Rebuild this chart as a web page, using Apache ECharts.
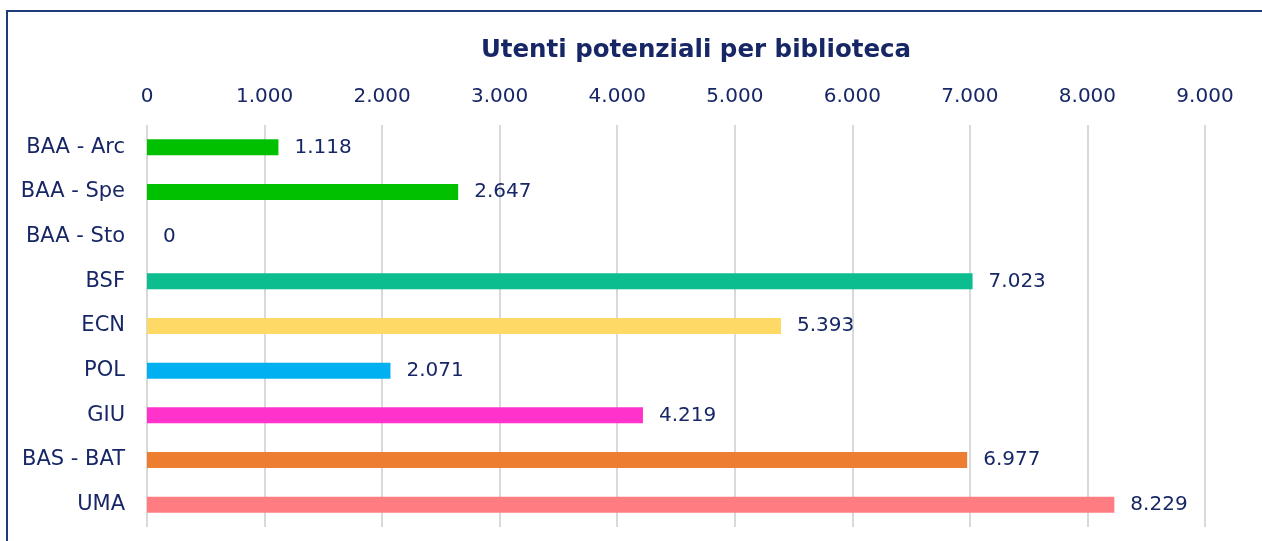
<!DOCTYPE html>
<html>
<head>
<meta charset="utf-8">
<script src="https://cdn.jsdelivr.net/npm/echarts@6/dist/echarts.min.js"></script>
<style>
  html, body { margin: 0; padding: 0; background: #fff; }
  #chart { width: 1262px; height: 541px; }
</style>
</head>
<body>
<div id="chart"></div>
<script>
const categories = ['BAA - Arc', 'BAA - Spe', 'BAA - Sto', 'BSF', 'ECN', 'POL', 'GIU', 'BAS - BAT', 'UMA'];
const values = [1118, 2647, 0, 7023, 5393, 2071, 4219, 6977, 8229];
const barColors = ['#00c000', '#00c000', '#00c000', '#0bbd8f', '#fed966', '#00b0f0', '#ff33cc', '#ed7d31', '#ff7c80'];

const navy = '#172766';
const font = 'DejaVu Sans';

// 1234 -> "1.234"
const fmt = (v) => String(Math.round(v)).replace(/\B(?=(\d{3})+(?!\d))/g, '.');

const chart = echarts.init(document.getElementById('chart'));
chart.setOption({
  animation: false,
  title: {
    text: 'Utenti potenziali per biblioteca',
    left: 691,
    top: 33,
    textAlign: 'center',
    textStyle: { color: navy, fontFamily: font, fontWeight: 'bold', fontSize: 24.5 }
  },
  graphic: [{
    type: 'rect',
    shape: { x: 7, y: 11, width: 1300, height: 700 },
    style: { fill: 'none', stroke: '#1f3a78', lineWidth: 2 }
  }],
  grid: { left: 147, right: 57, top: 125, bottom: 14 },
  xAxis: {
    type: 'value',
    position: 'top',
    min: 0,
    max: 9000,
    interval: 1000,
    axisLine: { show: false },
    axisTick: { show: false },
    axisLabel: { color: navy, fontFamily: font, fontSize: 20, margin: 18, formatter: fmt },
    splitLine: { lineStyle: { color: '#d9d9d9', width: 2 } }
  },
  yAxis: {
    type: 'category',
    inverse: true,
    data: categories,
    axisLine: { show: false },
    axisTick: { show: false },
    axisLabel: { color: navy, fontFamily: font, fontSize: 21, margin: 22 }
  },
  series: [{
    type: 'bar',
    barWidth: 16,
    data: values.map((v, i) => ({ value: v, itemStyle: { color: barColors[i] } })),
    label: {
      show: true,
      position: 'right',
      distance: 16,
      color: navy,
      fontFamily: font,
      fontSize: 20,
      formatter: (p) => fmt(p.value)
    }
  }]
});
</script>
</body>
</html>
